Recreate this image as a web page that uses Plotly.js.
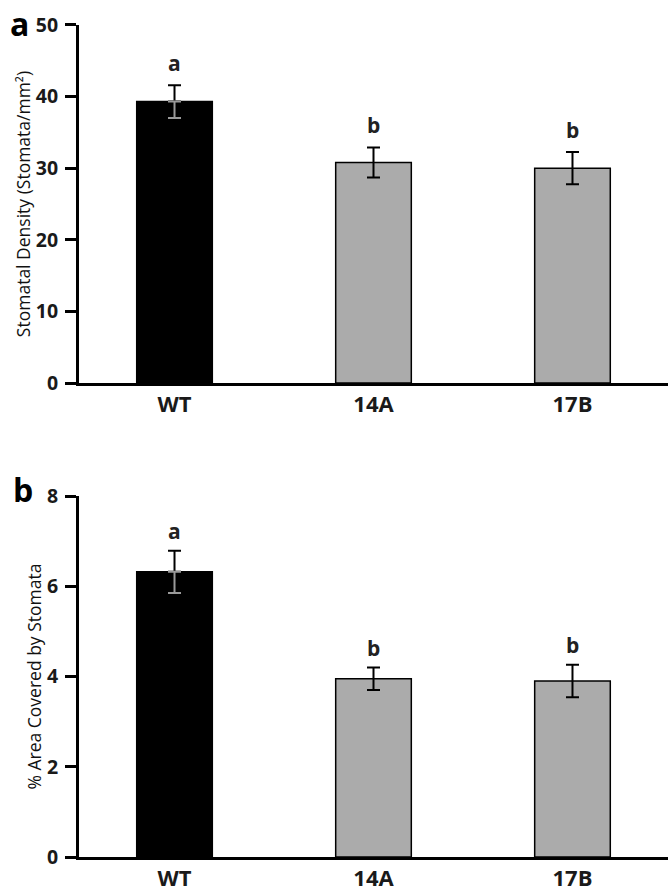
<!DOCTYPE html>
<html>
<head>
    <meta charset="UTF-8">
    <title>Stomata</title>
    <script src="https://cdn.plot.ly/plotly-3.0.1.min.js"></script>
    <style>
    body { margin: 0; padding: 0; background: white; }
    #chart { width: 668px; height: 892px; }
  </style>
</head>
<body>
    <div id="chart"></div>
    <script>
        // lines
        var lines = ['WT', '14A', '17B'];
        var barColors = ['#000000', '#ababab', '#ababab'];

        // panel a: stomatal density
        var densityMean = [39.3, 30.8, 30.0];
        var densityErr = [2.3, 2.1, 2.25];
        var densityLetters = ['a', 'b', 'b'];

        // panel b: % area covered
        var areaMean = [6.32, 3.95, 3.90];
        var areaErr = [0.47, 0.25, 0.36];
        var areaLetters = ['a', 'b', 'b'];

        var font = "'Open Sans', 'Noto Sans', sans-serif";

        function barTrace(y, err, xa, ya) {
            return {
                x: lines, y: y, type: 'bar', xaxis: xa, yaxis: ya,
                width: 0.38,
                marker: { color: barColors, line: { color: '#000', width: 1.5 } },
                error_y: { type: 'data', array: err, arrayminus: err.map((e, i) => i === 0 ? 0 : e),
                    color: '#000', thickness: 2, width: 6.5 },
                hoverinfo: 'x+y', showlegend: false
            };
        }
        // lower whisker on the black bar is drawn in grey
        function lowWhisker(y, err, xa, ya) {
            return {
                x: [lines[0]], y: [y[0]], type: 'scatter', mode: 'markers', xaxis: xa, yaxis: ya,
                marker: { size: 1, color: 'rgba(0,0,0,0)' },
                error_y: { type: 'data', symmetric: false, array: [0], arrayminus: [err[0]],
                    color: '#9a9a9a', thickness: 2, width: 6.5 },
                hoverinfo: 'skip', showlegend: false
            };
        }

        var traces = [
            barTrace(densityMean, densityErr, 'x', 'y'),
            lowWhisker(densityMean, densityErr, 'x', 'y'),
            barTrace(areaMean, areaErr, 'x2', 'y2'),
            lowWhisker(areaMean, areaErr, 'x2', 'y2')
        ];

        var annotations = [];
        lines.forEach((c, i) => {
            annotations.push({ xref: 'x', yref: 'y', x: c, y: densityMean[i] + densityErr[i],
                text: '<b>' + densityLetters[i] + '</b>', showarrow: false, yanchor: 'bottom', yshift: 6,
                font: { size: 21, color: '#222', family: font } });
            annotations.push({ xref: 'x2', yref: 'y2', x: c, y: areaMean[i] + areaErr[i],
                text: '<b>' + areaLetters[i] + '</b>', showarrow: false, yanchor: 'bottom', yshift: 4,
                font: { size: 21, color: '#222', family: font } });
        });
        annotations.push({ xref: 'paper', yref: 'paper', x: -0.12, y: 1.0, xanchor: 'left', yanchor: 'top',
            text: '<b>a</b>', showarrow: false, font: { size: 32, color: '#000', family: font }, yshift: 0 });
        annotations.push({ xref: 'paper', yref: 'paper', x: -0.115, y: 0.478, xanchor: 'left', yanchor: 'top',
            text: '<b>b</b>', showarrow: false, font: { size: 32, color: '#000', family: font } });

        var xaxisStyle = {
            type: 'category', range: [-0.48, 2.48], showline: true, linecolor: '#000', linewidth: 3,
            ticks: '', showgrid: false, zeroline: false, fixedrange: true,
            tickfont: { size: 22, color: '#1a1a1a', family: font, weight: 'bold' }, ticklabelstandoff: 0
        };
        var yaxisStyle = {
            showline: true, linecolor: '#000', linewidth: 3, ticks: 'outside', ticklen: 11, tickwidth: 3,
            tickcolor: '#000', showgrid: false, zeroline: false, automargin: false,
            tickfont: { size: 19.5, color: '#1a1a1a', family: font, weight: 'bold' }, ticklabelstandoff: 3
        };

        var layout = {
            width: 668, height: 892,
            margin: { l: 79, r: 0, t: 0, b: 0 },
            paper_bgcolor: 'white', plot_bgcolor: 'white',
            font: { family: font, color: '#111' },
            xaxis: Object.assign({}, xaxisStyle, { anchor: 'y' }),
            yaxis: Object.assign({}, yaxisStyle, { domain: [0.5706, 0.972], range: [0, 50], dtick: 10,
                title: { text: 'Stomatal Density (Stomata/mm²)', font: { size: 17.5, color: '#111' }, standoff: 1 } }),
            xaxis2: Object.assign({}, xaxisStyle, { anchor: 'y2' }),
            yaxis2: Object.assign({}, yaxisStyle, { domain: [0.0392, 0.4439], range: [0, 8], dtick: 2,
                title: { text: '% Area Covered by Stomata', font: { size: 17.5, color: '#111' }, standoff: 1 } }),
            bargap: 0,
            annotations: annotations
        };

        Plotly.newPlot('chart', traces, layout, { displayModeBar: false, staticPlot: true });
    </script>
</body>
</html>
